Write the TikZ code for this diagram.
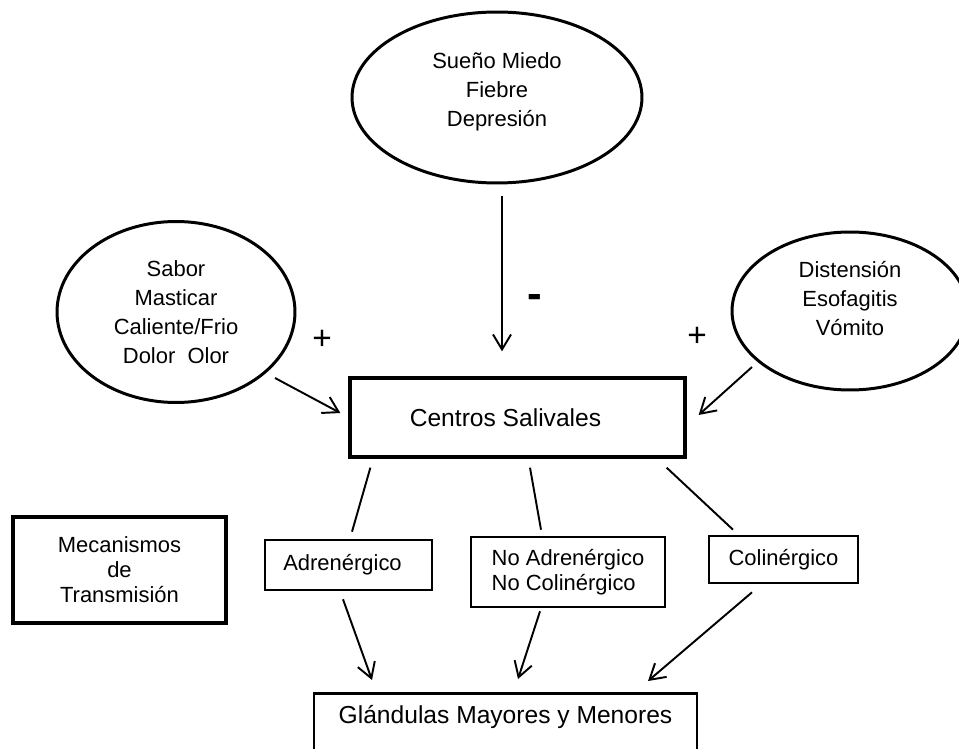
\documentclass[tikz,border=0pt]{standalone}
\usepackage{fontspec}
\setmainfont{Liberation Sans}
\usetikzlibrary{arrows.meta,shapes.geometric,calc}
\tikzset{
    %Define standard arrow tip
    >={Straight Barb[length=3mm,width=3.6mm]},
    %Define style for ovals
    cause/.style={
      ellipse,
      draw=black, line width=1.7pt,
      inner sep=0pt,
      align=center,
      font=\fontsize{12.5}{16.5}\selectfont},
    %Define style for boxes
    block/.style={
      rectangle,
      draw=black, line width=1.5pt,
      inner sep=0pt,
      align=center,
      font=\fontsize{12.5}{14.2}\selectfont},
    % Define arrow style
    arr/.style={
      ->,
      line width=1.1pt},
    link/.style={
      line width=1.1pt},
    sign/.style={
      font=\fontsize{19}{19}\selectfont}
}
\begin{document}
\begin{tikzpicture}[x=0.02cm, y=-0.02cm]
    \useasboundingbox (0,0) rectangle (959,749);

    % causes
    \node[cause, minimum width=5.8cm, minimum height=3.42cm, text depth=9.6pt] (suenio) at (497,97.5)
      {Sueño Miedo\\Fiebre\\Depresión};
    \node[cause, minimum width=4.76cm, minimum height=3.62cm] (sabor) at (176,312)
      {Sabor\\Masticar\\Caliente/Frio\\Dolor~~Olor};
    \node[cause, minimum width=4.72cm, minimum height=3.16cm, text depth=14.8pt] (disten) at (850,311)
      {Distensión\\Esofagitis\\Vómito};

    \node[sign] (plusl) at (322,340) {+};
    \node[sign] (plusr) at (697,337) {+};
    \node[font=\fontsize{25}{25}\selectfont\bfseries] (minus) at (535,301) {-};

    % centre
    \node[block, line width=1.9pt, minimum width=6.7cm, minimum height=1.58cm,
      font=\fontsize{14}{17}\selectfont] (centros) at (517.5,417.5)
      {Centros Salivales\hspace*{0.48cm}};

    % transmission
    \node[block, line width=2pt, minimum width=4.26cm, minimum height=2.12cm] (mecan) at (119.5,570)
      {Mecanismos\\de\\Transmisión};
    \node[block, minimum width=3.34cm, minimum height=1cm] (adr) at (348.5,565)
      {Adrenérgico\hspace*{0.24cm}};
    \node[block, align=left, minimum width=3.88cm, minimum height=1.4cm] (noadr) at (568,572)
      {No Adrenérgico\\No Colinérgico};
    \node[block, minimum width=2.98cm, minimum height=0.94cm] (colin) at (783.5,559.5) {Colinérgico};

    % target
    \node[block, anchor=north, minimum width=7.66cm, font=\fontsize{14}{17}\selectfont,
      text height=0.4cm, text depth=1.2cm, inner ysep=0.2cm] (gland) at (505.5,692)
      {Glándulas Mayores y Menores};

    \draw[arr] ($(suenio.south)+(5,12)$) -- ($(centros.north)+(-15.5,-25)$);
    \draw[arr] ($(sabor)+(99,66)$) -- ($(centros.west)+(-8,-4.5)$);
    \draw[arr] ($(disten)+(-98,56)$) -- ($(centros.east)+(12,-2.5)$);

    \draw[link] ($(centros.south west)+(22,9)$) -- ($(adr.north)+(3.5,-7)$);
    \draw[link] ($(centros.south)+(12.5,9)$) -- ($(noadr.north)+(-27,-6)$);
    \draw[link] ($(centros.south east)+(-20,9)$) -- ($(colin.north)+(-50.5,-5)$);

    \draw[arr] ($(adr.south)+(-5.5,8)$) -- ($(gland.north)+(-133.5,-12)$);
    \draw[arr] ($(noadr.south)+(-28,3)$) -- ($(gland.north)+(12.5,-13)$);
    \draw[arr] ($(colin.south)+(-31.5,8)$) -- ($(gland.north)+(142.5,-11)$);
\end{tikzpicture}
\end{document}
